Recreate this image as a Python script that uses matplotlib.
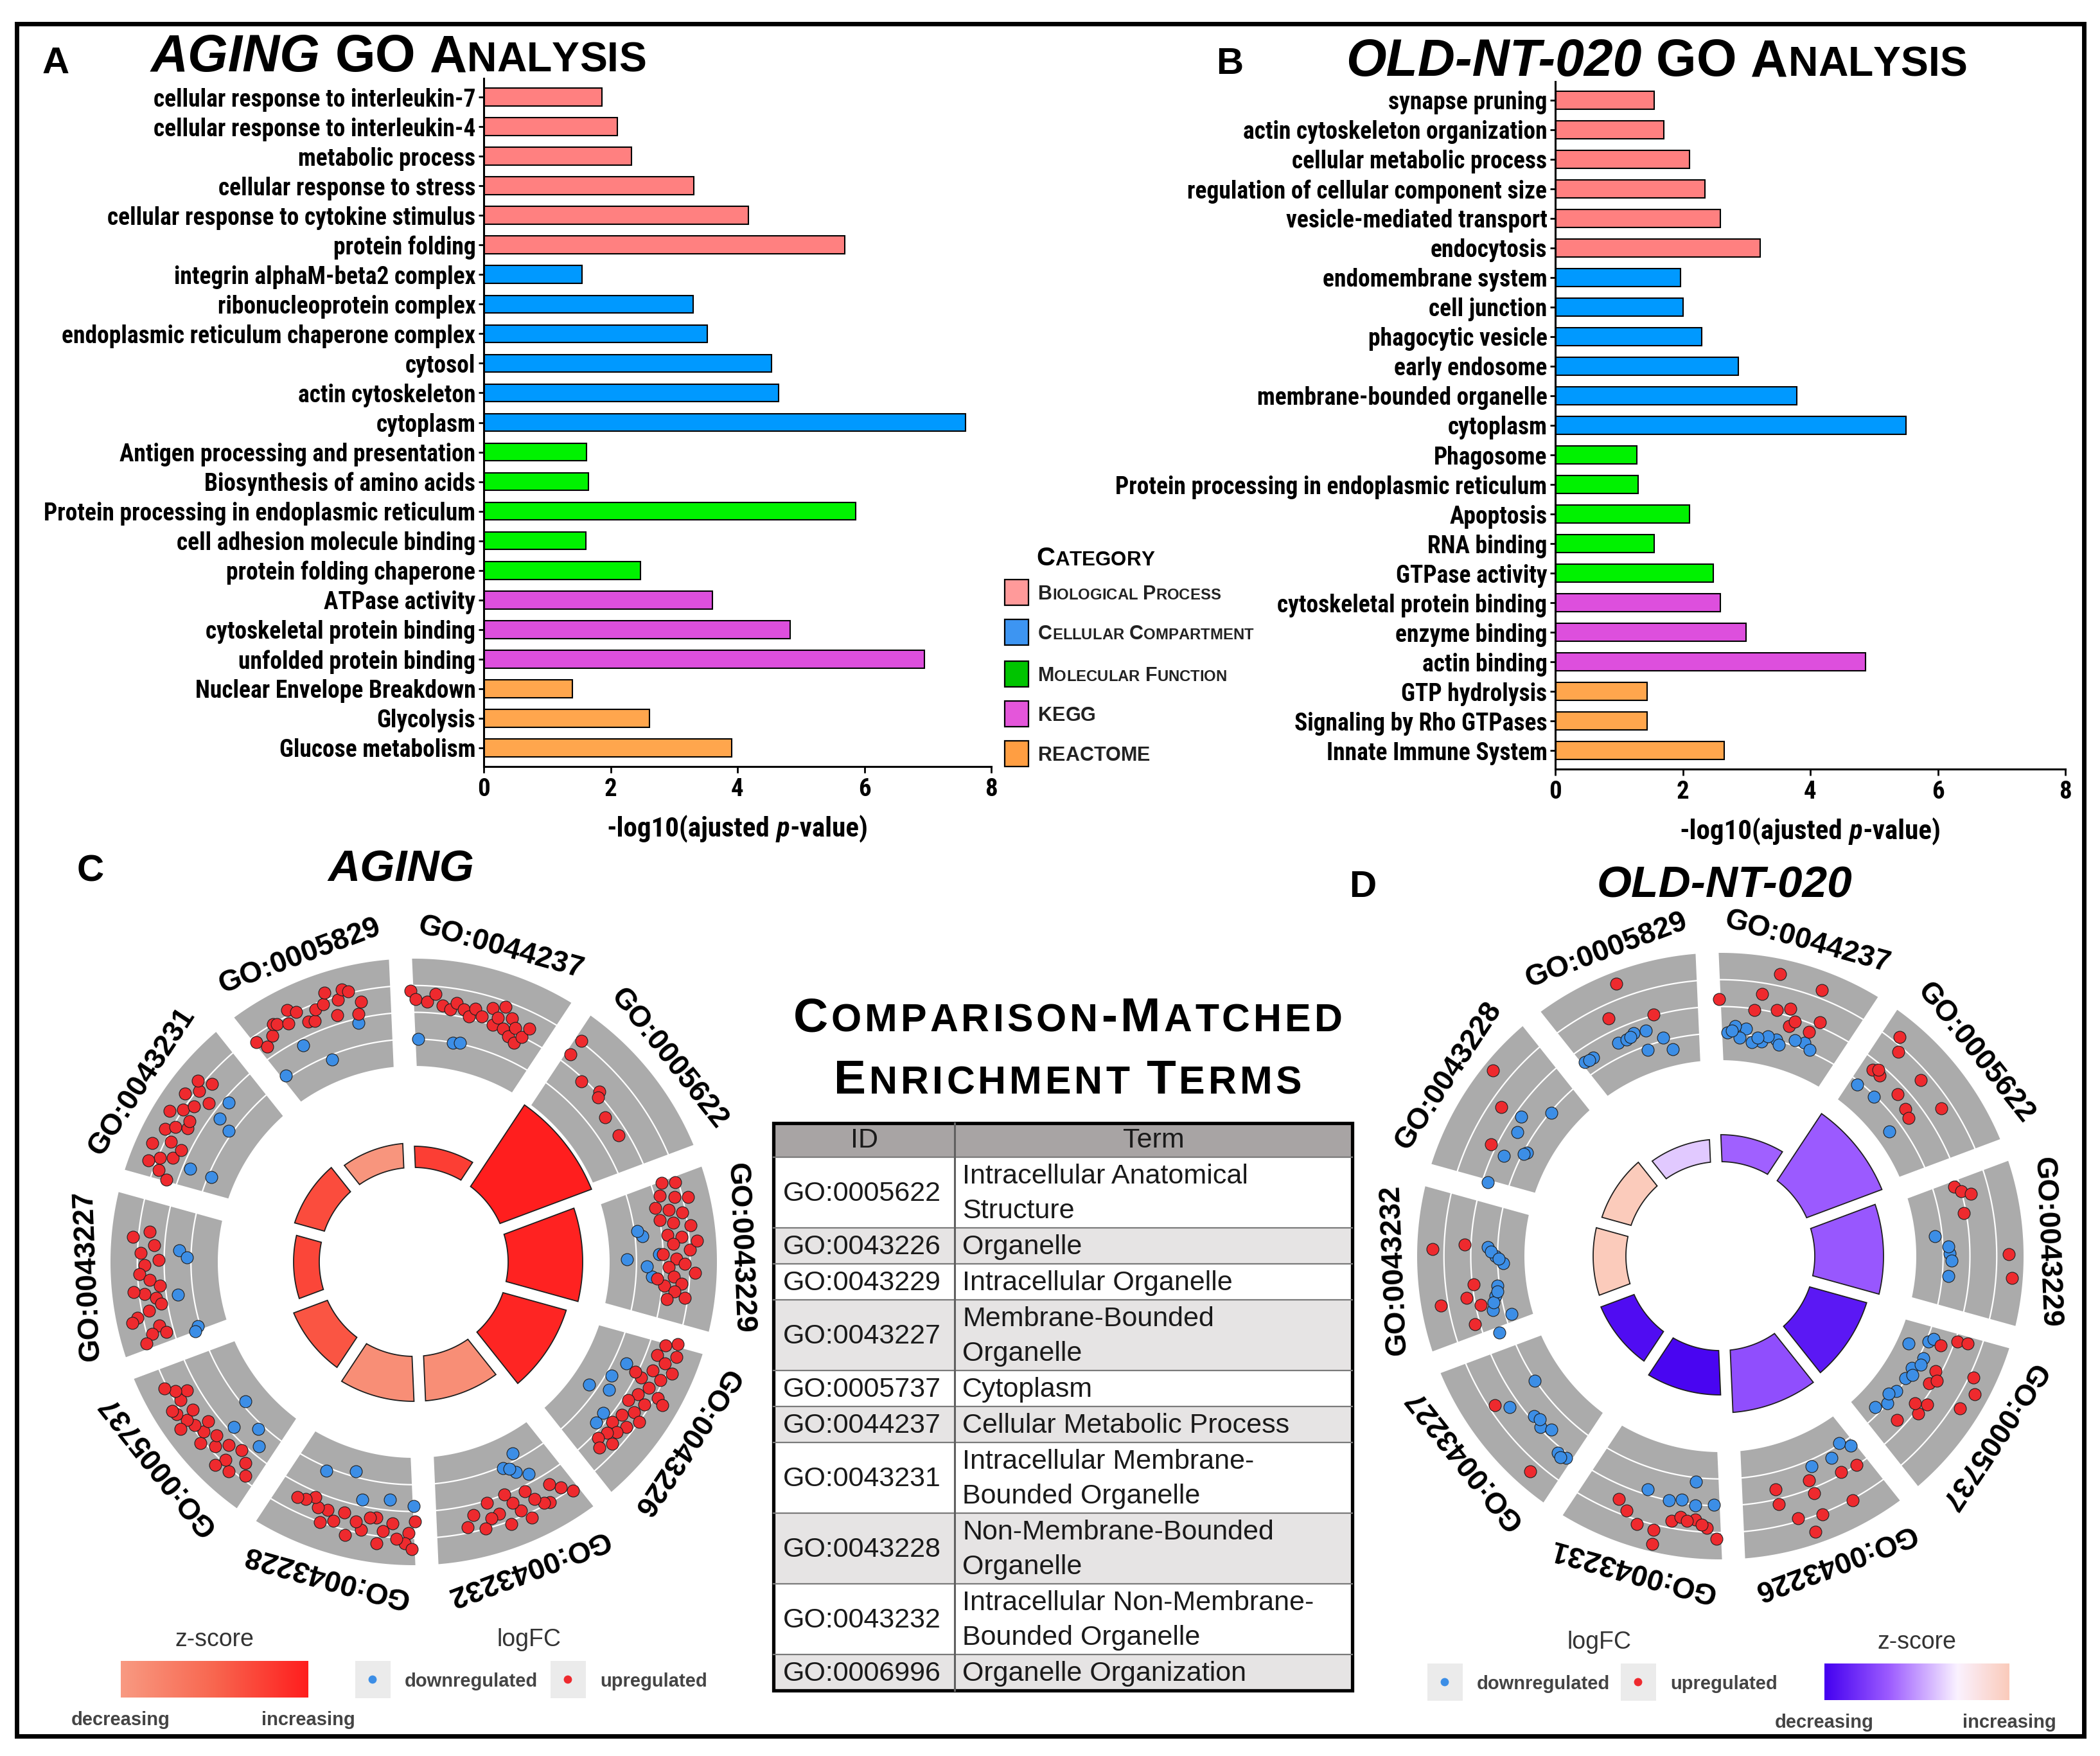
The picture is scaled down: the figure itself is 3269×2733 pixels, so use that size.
import numpy as np
import matplotlib
matplotlib.use("Agg")
import matplotlib.pyplot as plt
from matplotlib import font_manager as fm
from matplotlib.patches import Rectangle, Polygon
from matplotlib.colors import LinearSegmentedColormap, Normalize

# ---------------- data: panels A / B ----------------
cat_names = ["Biological Process", "Cellular Compartment", "Molecular Function", "KEGG", "REACTOME"]
cat_bar_colors = ["#FF8080", "#0099FF", "#00F200", "#DD4FDD", "#FFA64D"]
cat_key_colors = ["#FF9A9A", "#3D95F2", "#00C400", "#E456DA", "#FF9E42"]

aging_terms = ["cellular response to interleukin-7", "cellular response to interleukin-4",
               "metabolic process", "cellular response to stress",
               "cellular response to cytokine stimulus", "protein folding",
               "integrin alphaM-beta2 complex", "ribonucleoprotein complex",
               "endoplasmic reticulum chaperone complex", "cytosol", "actin cytoskeleton",
               "cytoplasm", "Antigen processing and presentation", "Biosynthesis of amino acids",
               "Protein processing in endoplasmic reticulum", "cell adhesion molecule binding",
               "protein folding chaperone", "ATPase activity", "cytoskeletal protein binding",
               "unfolded protein binding", "Nuclear Envelope Breakdown", "Glycolysis",
               "Glucose metabolism"]
aging_logp = [1.86, 2.11, 2.33, 3.31, 4.17, 5.69, 1.55, 3.30, 3.52, 4.54, 4.65, 7.59,
              1.62, 1.65, 5.86, 1.61, 2.47, 3.60, 4.83, 6.95, 1.40, 2.61, 3.91]
aging_cat = [0, 0, 0, 0, 0, 0, 1, 1, 1, 1, 1, 1, 2, 2, 2, 2, 2, 3, 3, 3, 4, 4, 4]

nt_terms = ["synapse pruning", "actin cytoskeleton organization", "cellular metabolic process",
            "regulation of cellular component size", "vesicle-mediated transport", "endocytosis",
            "endomembrane system", "cell junction", "phagocytic vesicle", "early endosome",
            "membrane-bounded organelle", "cytoplasm", "Phagosome",
            "Protein processing in endoplasmic reticulum", "Apoptosis", "RNA binding",
            "GTPase activity", "cytoskeletal protein binding", "enzyme binding", "actin binding",
            "GTP hydrolysis", "Signaling by Rho GTPases", "Innate Immune System"]
nt_logp = [1.55, 1.70, 2.11, 2.35, 2.59, 3.21, 1.96, 2.00, 2.30, 2.87, 3.79, 5.50,
           1.28, 1.30, 2.11, 1.55, 2.48, 2.59, 2.99, 4.87, 1.44, 1.44, 2.65]
nt_cat = [0, 0, 0, 0, 0, 0, 1, 1, 1, 1, 1, 1, 2, 2, 2, 2, 2, 3, 3, 3, 4, 4, 4]

# ---------------- data: panels C / D (GO circles) ----------------
# segments clockwise from the top; bar = inner bar height, z = z-score on the colour scale (0..1)
c_ids = ["GO:0044237", "GO:0005622", "GO:0043229", "GO:0043226", "GO:0043232",
         "GO:0043228", "GO:0005737", "GO:0043227", "GO:0043231", "GO:0005829"]
c_bar = [3.3, 15.2, 11.6, 10.2, 7.0, 7.0, 5.6, 4.0, 4.8, 3.8]
c_z = [0.78, 1.0, 0.97, 0.95, 0.12, 0.12, 0.62, 0.72, 0.68, 0.05]

d_ids = ["GO:0044237", "GO:0005622", "GO:0043229", "GO:0005737", "GO:0043226",
         "GO:0043231", "GO:0043227", "GO:0043232", "GO:0043228", "GO:0005829"]
d_bar = [4.2, 12.5, 10.7, 9.2, 9.7, 6.9, 5.5, 5.1, 4.7, 3.5]
d_z = [0.36, 0.34, 0.33, 0.09, 0.3, 0.02, 0.05, 1.0, 1.0, 0.62]

# gene dots: (position across the term 0..1 clockwise, logFC position 0 inner .. 1 outer)
c_up = {
    "GO:0044237": [(0.05, 0.70), (0.08, 0.62), (0.15, 0.60), (0.2, 0.68), (0.25, 0.58), (0.3, 0.55),
                   (0.33, 0.62), (0.38, 0.57), (0.42, 0.52), (0.45, 0.6), (0.5, 0.55), (0.55, 0.65),
                   (0.58, 0.5), (0.6, 0.58), (0.65, 0.5), (0.68, 0.62), (0.7, 0.45), (0.72, 0.55),
                   (0.75, 0.42), (0.78, 0.5), (0.62, 0.7), (0.8, 0.6)],
    "GO:0005622": [(0.1, 0.76), (0.1, 0.6), (0.26, 0.47), (0.39, 0.52), (0.41, 0.48), (0.54, 0.41),
                   (0.69, 0.42)],
    "GO:0043229": [(0.08, 0.6), (0.1, 0.72), (0.15, 0.55), (0.18, 0.68), (0.2, 0.8), (0.25, 0.6),
                   (0.28, 0.72), (0.3, 0.5), (0.33, 0.62), (0.36, 0.78), (0.4, 0.55), (0.42, 0.68),
                   (0.46, 0.6), (0.5, 0.75), (0.52, 0.5), (0.55, 0.62), (0.58, 0.7), (0.6, 0.55),
                   (0.63, 0.8), (0.66, 0.6), (0.7, 0.68), (0.72, 0.52), (0.75, 0.62), (0.78, 0.72),
                   (0.8, 0.56), (0.45, 0.82), (0.22, 0.48), (0.68, 0.45)],
    "GO:0043226": [(0.05, 0.75), (0.08, 0.65), (0.12, 0.78), (0.15, 0.6), (0.18, 0.7), (0.22, 0.8),
                   (0.25, 0.62), (0.28, 0.72), (0.32, 0.55), (0.35, 0.66), (0.38, 0.78), (0.42, 0.6),
                   (0.45, 0.7), (0.48, 0.55), (0.52, 0.66), (0.55, 0.75), (0.58, 0.58), (0.62, 0.68),
                   (0.65, 0.55), (0.68, 0.64), (0.72, 0.58), (0.75, 0.68), (0.78, 0.55), (0.82, 0.62),
                   (0.4, 0.85), (0.3, 0.48)],
    "GO:0043232": [(0.1, 0.77), (0.15, 0.68), (0.2, 0.6), (0.25, 0.75), (0.28, 0.73), (0.32, 0.65),
                   (0.35, 0.55), (0.38, 0.8), (0.42, 0.7), (0.45, 0.6), (0.5, 0.78), (0.55, 0.65),
                   (0.6, 0.52), (0.6, 0.67), (0.65, 0.75), (0.7, 0.6), (0.48, 0.5), (0.75, 0.7)],
    "GO:0043228": [(0.06, 0.59), (0.1, 0.7), (0.12, 0.8), (0.17, 0.76), (0.2, 0.62), (0.25, 0.7),
                   (0.3, 0.58), (0.34, 0.59), (0.38, 0.72), (0.42, 0.65), (0.46, 0.8), (0.5, 0.6),
                   (0.55, 0.7), (0.6, 0.62), (0.66, 0.63), (0.7, 0.55), (0.75, 0.6), (0.08, 0.85),
                   (0.28, 0.82), (0.62, 0.75), (0.8, 0.62)],
    "GO:0005737": [(0.13, 0.71), (0.18, 0.62), (0.22, 0.78), (0.28, 0.72), (0.3, 0.82), (0.33, 0.6),
                   (0.38, 0.7), (0.42, 0.62), (0.45, 0.78), (0.49, 0.69), (0.52, 0.6), (0.55, 0.72),
                   (0.6, 0.75), (0.63, 0.65), (0.66, 0.8), (0.69, 0.82), (0.72, 0.7), (0.75, 0.6),
                   (0.78, 0.7), (0.82, 0.78), (0.25, 0.55), (0.58, 0.85)],
    "GO:0043227": [(0.71, 0.8), (0.67, 0.6), (0.62, 0.72), (0.58, 0.55), (0.55, 0.68), (0.5, 0.73),
                   (0.46, 0.64), (0.42, 0.55), (0.38, 0.7), (0.35, 0.6), (0.31, 0.56), (0.28, 0.68),
                   (0.25, 0.8), (0.23, 0.86), (0.18, 0.62), (0.14, 0.7), (0.13, 0.57), (0.1, 0.78),
                   (0.75, 0.65), (0.4, 0.8)],
    "GO:0043231": [(0.08, 0.6), (0.12, 0.7), (0.19, 0.73), (0.22, 0.62), (0.28, 0.58), (0.3, 0.7),
                   (0.35, 0.8), (0.39, 0.73), (0.42, 0.62), (0.46, 0.64), (0.5, 0.75), (0.55, 0.68),
                   (0.58, 0.82), (0.62, 0.59), (0.64, 0.73), (0.68, 0.8), (0.72, 0.68), (0.15, 0.82),
                   (0.25, 0.85), (0.45, 0.85)],
    "GO:0005829": [(0.08, 0.69), (0.12, 0.6), (0.18, 0.66), (0.22, 0.75), (0.24, 0.73), (0.3, 0.68),
                   (0.33, 0.8), (0.37, 0.75), (0.41, 0.62), (0.45, 0.6), (0.48, 0.7), (0.53, 0.72),
                   (0.56, 0.82), (0.59, 0.58), (0.62, 0.72), (0.66, 0.8), (0.69, 0.77), (0.72, 0.54),
                   (0.75, 0.65)],
}
c_down = {
    "GO:0044237": [(0.1, 0.25), (0.35, 0.25), (0.4, 0.26)],
    "GO:0043229": [(0.55, 0.16), (0.39, 0.32), (0.52, 0.46), (0.67, 0.4), (0.35, 0.28), (0.6, 0.35)],
    "GO:0043226": [(0.54, 0.17), (0.28, 0.37), (0.64, 0.43), (0.49, 0.35), (0.72, 0.44), (0.4, 0.3)],
    "GO:0043232": [(0.31, 0.18), (0.42, 0.27), (0.28, 0.42), (0.35, 0.35), (0.38, 0.3)],
    "GO:0043228": [(0.7, 0.28), (0.5, 0.2), (0.23, 0.4), (0.07, 0.45), (0.41, 0.44)],
    "GO:0005737": [(0.47, 0.21), (0.39, 0.45), (0.26, 0.3), (0.18, 0.42)],
    "GO:0043227": [(0.65, 0.36), (0.6, 0.29), (0.35, 0.39), (0.11, 0.27), (0.08, 0.31)],
    "GO:0043231": [(0.7, 0.45), (0.58, 0.42), (0.55, 0.29), (0.2, 0.43), (0.2, 0.22)],
    "GO:0005829": [(0.11, 0.28), (0.32, 0.44), (0.46, 0.21), (0.71, 0.46)],
}
d_up = {
    "GO:0044237": [(0.4, 0.86), (0.06, 0.57), (0.32, 0.65), (0.65, 0.83), (0.29, 0.49), (0.43, 0.53),
                   (0.51, 0.57), (0.53, 0.41), (0.71, 0.54), (0.67, 0.42), (0.56, 0.47)],
    "GO:0005622": [(0.16, 0.81), (0.21, 0.7), (0.16, 0.42), (0.22, 0.42), (0.42, 0.66), (0.39, 0.41),
                   (0.5, 0.38), (0.56, 0.35), (0.63, 0.65), (0.19, 0.45)],
    "GO:0043229": [(0.11, 0.45), (0.15, 0.5), (0.18, 0.58), (0.29, 0.48), (0.56, 0.86), (0.69, 0.9)],
    "GO:0005737": [(0.18, 0.39), (0.12, 0.52), (0.11, 0.62), (0.28, 0.79), (0.36, 0.87), (0.47, 0.82),
                   (0.35, 0.45), (0.44, 0.45), (0.56, 0.55), (0.64, 0.53), (0.76, 0.42), (0.4, 0.5),
                   (0.6, 0.45)],
    "GO:0043226": [(0.7, 0.41), (0.7, 0.55), (0.61, 0.72), (0.47, 0.42), (0.47, 0.55), (0.26, 0.48),
                   (0.15, 0.5), (0.28, 0.76), (0.47, 0.76), (0.54, 0.89)],
    "GO:0043231": [(0.7, 0.63), (0.63, 0.7), (0.55, 0.79), (0.45, 0.8), (0.36, 0.68), (0.31, 0.63),
                   (0.22, 0.64), (0.15, 0.71), (0.09, 0.81), (0.44, 0.93), (0.27, 0.66), (0.18, 0.68)],
    "GO:0043227": [(0.64, 0.69), (0.22, 0.85)],
    "GO:0043232": [(0.61, 0.86), (0.64, 0.56), (0.39, 0.49), (0.31, 0.57), (0.29, 0.82), (0.25, 0.45),
                   (0.14, 0.55)],
    "GO:0043228": [(0.66, 0.91), (0.52, 0.64), (0.29, 0.55)],
    "GO:0005829": [(0.49, 0.89), (0.37, 0.62), (0.64, 0.51)],
}
d_down = {
    "GO:0044237": [(0.12, 0.26), (0.25, 0.31), (0.37, 0.21), (0.47, 0.26), (0.21, 0.22), (0.67, 0.31),
                   (0.3, 0.19), (0.6, 0.3), (0.17, 0.32), (0.41, 0.27), (0.15, 0.28), (0.34, 0.24),
                   (0.5, 0.22), (0.72, 0.27)],
    "GO:0005622": [(0.14, 0.22), (0.29, 0.24), (0.56, 0.13)],
    "GO:0043229": [(0.42, 0.18), (0.55, 0.31), (0.71, 0.31), (0.6, 0.33), (0.5, 0.3)],
    "GO:0005737": [(0.8, 0.19), (0.72, 0.25), (0.61, 0.24), (0.5, 0.24), (0.41, 0.24), (0.31, 0.29),
                   (0.19, 0.27), (0.26, 0.11), (0.16, 0.31), (0.66, 0.2), (0.36, 0.3), (0.45, 0.28)],
    "GO:0043226": [(0.17, 0.24), (0.11, 0.32), (0.42, 0.31), (0.27, 0.32)],
    "GO:0043231": [(0.55, 0.45), (0.4, 0.5), (0.32, 0.47), (0.24, 0.29), (0.11, 0.49), (0.23, 0.51)],
    "GO:0043227": [(0.63, 0.26), (0.58, 0.59), (0.44, 0.46), (0.36, 0.49), (0.3, 0.43), (0.17, 0.55),
                   (0.11, 0.54), (0.4, 0.44), (0.14, 0.57)],
    "GO:0043232": [(0.63, 0.34), (0.57, 0.27), (0.52, 0.2), (0.36, 0.27), (0.2, 0.35), (0.04, 0.35),
                   (0.14, 0.19), (0.29, 0.3), (0.6, 0.31), (0.55, 0.24), (0.25, 0.33), (0.32, 0.28)],
    "GO:0043228": [(0.54, 0.44), (0.69, 0.24), (0.44, 0.39), (0.26, 0.4), (0.35, 0.22), (0.06, 0.45),
                   (0.33, 0.24)],
    "GO:0005829": [(0.1, 0.38), (0.16, 0.37), (0.36, 0.38), (0.42, 0.37), (0.48, 0.4), (0.56, 0.39),
                   (0.53, 0.21), (0.66, 0.28), (0.71, 0.15), (0.13, 0.37), (0.45, 0.38)],
}

# ---------------- data: table ----------------
table_ids = ["GO:0005622", "GO:0043226", "GO:0043229", "GO:0043227", "GO:0005737",
             "GO:0044237", "GO:0043231", "GO:0043228", "GO:0043232", "GO:0006996"]
table_terms = ["Intracellular Anatomical\nStructure", "Organelle", "Intracellular Organelle",
               "Membrane-Bounded\nOrganelle", "Cytoplasm", "Cellular Metabolic Process",
               "Intracellular Membrane-\nBounded Organelle", "Non-Membrane-Bounded\nOrganelle",
               "Intracellular Non-Membrane-\nBounded Organelle", "Organelle Organization"]

# ---------------- fonts ----------------
ARIAL = ["Liberation Sans", "DejaVu Sans"]
installed = {f.name for f in fm.fontManager.ttflist}
narrow_name = next((n for n in ("Liberation Sans Narrow", "Arial Narrow", "Roboto Condensed")
                    if n in installed), None)
if narrow_name:
    NARROW, LAB_FS, XL_FS = [narrow_name] + ARIAL, 27, 31
else:
    # no condensed face: plain bold at a smaller size gives the same label widths
    NARROW, LAB_FS, XL_FS = ARIAL, 23, 27

# ---------------- figure ----------------
W, H = 3269, 2733
fig = plt.figure(figsize=(W / 100, H / 100), dpi=100)
renderer = fig.canvas.get_renderer()
RED, BLUE = "#EE2A2E", "#3C8EE6"


def add_ax(x0, y0, x1, y1):
    # box given in pixels, y measured from the top
    return fig.add_axes([x0 / W, 1 - y1 / H, (x1 - x0) / W, (y1 - y0) / H])


def sp(size, em=0.278):
    return em * size * 100 / 72


def bar_panel(ax, terms, vals, cats):
    y = np.arange(len(terms))
    ax.barh(y, vals, height=0.6, color=[cat_bar_colors[c] for c in cats],
            edgecolor="black", linewidth=1.5, zorder=2)
    ax.set_yticks(y, terms, fontsize=LAB_FS, fontweight="bold", fontfamily=NARROW)
    ax.set_xticks([0, 2, 4, 6, 8], ["0", "2", "4", "6", "8"], fontsize=28, fontweight="bold",
                  fontfamily=NARROW)
    ax.set_xlim(0, 8)
    ax.set_ylim(22.63, -0.63)
    for s in ("top", "right"):
        ax.spines[s].set_visible(False)
    for s in ("left", "bottom"):
        ax.spines[s].set_linewidth(2.2)
    ax.tick_params(axis="y", length=6, width=2, pad=3)
    ax.tick_params(axis="x", length=7, width=2, pad=5)
    ax.patch.set_visible(False)


axA = add_ax(753, 122, 1543, 1193)
bar_panel(axA, aging_terms, aging_logp, aging_cat)
axB = add_ax(2421, 127, 3215, 1197)
bar_panel(axB, nt_terms, nt_logp, nt_cat)

# ---------------- GO circles ----------------
SEG, ROT = 36.0, 2.5
R_IN, R_OUT, R0, R_LAB = 305, 472, 147, 508
BAR_PX = 10.0


def sector(ax, a_ccw, a_cw, r0, r1, d, **kw):
    def arc(r):
        da = np.degrees(np.arcsin(d / r))
        th = np.radians(np.linspace(a_ccw - da, a_cw + da, 80))
        return np.column_stack([r * np.cos(th), r * np.sin(th)])
    ax.add_patch(Polygon(np.vstack([arc(r1), arc(r0)[::-1]]), closed=True, **kw))


def circle_panel(ax, ids, bars, zs, cmap, up, down):
    norm = Normalize(0, 1)
    for i, go in enumerate(ids):
        a1 = 90 + ROT - i * SEG
        a2 = a1 - SEG
        sector(ax, a1, a2, R_IN, R_OUT, 18, facecolor="#ABABAB", edgecolor="none", zorder=1)
        for f in (0.25, 0.5, 0.75):
            r = R_IN + f * (R_OUT - R_IN)
            da = np.degrees(np.arcsin(18 / r))
            th = np.radians(np.linspace(a1 - da, a2 + da, 80))
            ax.plot(r * np.cos(th), r * np.sin(th), color="white", lw=1.6, zorder=2)
        sector(ax, a1, a2, R0, R0 + BAR_PX * bars[i], 9, facecolor=cmap(norm(zs[i])),
               edgecolor="#1E1E1E", lw=1.3, zorder=2)
        for pts, col in ((down.get(go, []), BLUE), (up.get(go, []), RED)):
            if not pts:
                continue
            t = np.array([p[0] for p in pts])
            rf = np.array([p[1] for p in pts])
            ang = np.radians(a1 - t * SEG)
            rr = R_IN + rf * (R_OUT - R_IN)
            ax.scatter(rr * np.cos(ang), rr * np.sin(ang), s=185, c=col,
                       edgecolors="#1E1E1E", linewidths=0.8, zorder=3)
        am = a1 - SEG / 2
        ax.text(R_LAB * np.cos(np.radians(am)), R_LAB * np.sin(np.radians(am)), go,
                rotation=am - 90, rotation_mode="anchor", ha="center", va="center",
                fontsize=33, fontweight="bold", family=ARIAL)
    ax.set_xlim(-560, 560)
    ax.set_ylim(-560, 560)
    ax.axis("off")


cmap_c = LinearSegmentedColormap.from_list("zc", ["#F89A82", "#F8664F", "#FF1E1E"])
cmap_d = LinearSegmentedColormap.from_list(
    "zd", [(0, "#4400F0"), (0.35, "#9D5CFF"), (0.72, "#FAF2FF"), (1, "#FBCBBB")])

axC = add_ax(644 - 560, 1964 - 560, 644 + 560, 1964 + 560)
circle_panel(axC, c_ids, c_bar, c_z, cmap_c, c_up, c_down)
axD = add_ax(2678 - 560, 1955 - 560, 2678 + 560, 1955 + 560)
circle_panel(axD, d_ids, d_bar, d_z, cmap_d, d_up, d_down)

# ---------------- overlay in pixel units ----------------
ov = fig.add_axes([0, 0, 1, 1])
ov.set_xlim(0, W)
ov.set_ylim(H, 0)
ov.axis("off")
ov.patch.set_visible(False)


def rich(x, y, parts, ha="left"):
    texts, offs, cx = [], [], 0.0
    for s, kw, gap in parts:
        t = ov.text(0, 0, s, ha="left", va="baseline", **kw)
        texts.append(t)
        offs.append(cx)
        cx += t.get_window_extent(renderer).width + gap
    total = cx - parts[-1][2]
    x0 = x - total / 2 if ha == "center" else x
    for t, o in zip(texts, offs):
        t.set_position((x0 + o, y))


def sc_parts(s, size, ratio=0.78, track=0.0, **kw):
    out = []
    for ch in s:
        if ch == " ":
            if out:
                out[-1] = (out[-1][0], out[-1][1], out[-1][2] + sp(size))
            continue
        small = ch.isalpha() and ch.islower()
        out.append((ch.upper(), dict(fontsize=size * ratio if small else size, **kw), track))
    return out


bold = dict(fontweight="bold", family=ARIAL, color="black")

# panel letters and titles
for letter, x, y in (("A", 66, 114), ("B", 1893, 115), ("C", 120, 1371), ("D", 2100, 1396)):
    ov.text(x, y, letter, fontsize=42, va="baseline", ha="left", **bold)

rich(235, 111, [("AGING", dict(fontsize=58, fontstyle="italic", **bold), sp(58))]
     + sc_parts("GO Analysis", 58, 0.8, **bold))
rich(2095, 118, [("OLD-NT-020", dict(fontsize=58, fontstyle="italic", **bold), sp(58))]
     + sc_parts("GO Analysis", 58, 0.8, **bold))
ov.text(624, 1371, "AGING", fontsize=50, fontstyle="italic", ha="center", va="baseline", **bold)
ov.text(2684, 1396, "OLD-NT-020", fontsize=50, fontstyle="italic", ha="center", va="baseline", **bold)

# x axis titles
nb = dict(fontsize=XL_FS, fontweight="bold", family=NARROW)
for xc, yb in ((1148, 1302), (2818, 1306)):
    rich(xc, yb, [("-log10(ajusted", nb, sp(XL_FS, 0.25)),
                  ("p", dict(fontstyle="italic", **nb), 0),
                  ("-value)", nb, 0)], ha="center")

# category legend
rich(1613, 880, sc_parts("Category", 29, 0.78, **bold))
key_cy = [922, 984, 1049, 1111, 1173]
for name, col, cy in zip(cat_names, cat_key_colors, key_cy):
    ov.add_patch(Rectangle((1564, cy - 20), 37, 40, facecolor=col, edgecolor="black", lw=1.6))
    rich(1616, cy + 11, sc_parts(name, 22, 0.78, fontweight="bold", family=ARIAL, color="#222222"))

# table title
rich(1662, 1605, sc_parts("Comparison-Matched", 54, 0.81, track=5, **bold), ha="center")
rich(1662, 1702, sc_parts("Enrichment Terms", 54, 0.81, track=5, **bold), ha="center")

# table
TX0, TX1, TX2 = 1204, 1486, 2105
ty = 1748
ov.add_patch(Rectangle((TX0, ty), TX2 - TX0, 53, facecolor="#A8A4A4", edgecolor="none"))
ov.text((TX0 + TX1) / 2, ty + 27, "ID", fontsize=31, ha="center", va="center", family=ARIAL, color="#1a1a1a")
ov.text((TX1 + TX2) / 2, ty + 27, "Term", fontsize=31, ha="center", va="center", family=ARIAL, color="#1a1a1a")
ty += 53
row_lines = [ty]
for k, (gid, term) in enumerate(zip(table_ids, table_terms)):
    lines = term.split("\n")
    h = 56 + 54 * (len(lines) - 1)
    ov.add_patch(Rectangle((TX0, ty), TX2 - TX0, h, facecolor="white" if k % 2 == 0 else "#E6E4E4",
                           edgecolor="none"))
    cy = ty + h / 2
    ov.text(TX0 + 15, cy + 2, gid, fontsize=31, ha="left", va="center", family=ARIAL, color="#1a1a1a")
    for j, ln in enumerate(lines):
        ov.text(TX1 + 12, cy + 2 + (j - (len(lines) - 1) / 2) * 54, ln, fontsize=31, ha="left",
                va="center", family=ARIAL, color="#1a1a1a")
    ty += h
    row_lines.append(ty)
for yl in row_lines[:-1]:
    ov.plot([TX0, TX2], [yl, yl], color="#7A7A7A", lw=1.6)
ov.plot([TX1, TX1], [1748, ty], color="#606060", lw=2.2)
ov.add_patch(Rectangle((TX0, 1748), TX2 - TX0, ty - 1748, facecolor="none", edgecolor="black", lw=3.8))

# circle legends
lg = dict(family=ARIAL, color="#333333")


def logfc_legend(x_title, box1, box2, ty_):
    ov.text(x_title, ty_, "logFC", fontsize=27, ha="center", va="center", **lg)
    for (bx, col, lab) in ((box1, BLUE, "downregulated"), (box2, RED, "upregulated")):
        ov.add_patch(Rectangle((bx, ty_ + 33), 55, 58, facecolor="#EBEBEB", edgecolor="none"))
        ov.scatter([bx + 27], [ty_ + 62], s=85, c=col, edgecolors="none", zorder=3)
        ov.text(bx + 77, ty_ + 65, lab, fontsize=21, fontweight="bold", ha="left", va="center",
                family=ARIAL, color="#444444")


def zscore_legend(x0, x1, ty_, cmap):
    ov.text((x0 + x1) / 2, ty_, "z-score", fontsize=27, ha="center", va="center", **lg)
    ov.imshow(np.linspace(0, 1, 256)[None, :], cmap=cmap, extent=(x0, x1, ty_ + 90, ty_ + 33),
              aspect="auto", zorder=2)
    for xx, lab in ((x0, "decreasing"), (x1, "increasing")):
        ov.text(xx, ty_ + 125, lab, fontsize=21, fontweight="bold", ha="center", va="center",
                family=ARIAL, color="#444444")


zscore_legend(188, 480, 2552, cmap_c)
logfc_legend(824, 553, 857, 2552)
logfc_legend(2490, 2222, 2523, 2556)
zscore_legend(2840, 3128, 2556, cmap_d)

# outer frame
ov.add_patch(Rectangle((26, 37), 3218, 2665, facecolor="none", edgecolor="black", lw=5))
ov.set_xlim(0, W)
ov.set_ylim(H, 0)

fig.savefig("out.png", dpi=100)
